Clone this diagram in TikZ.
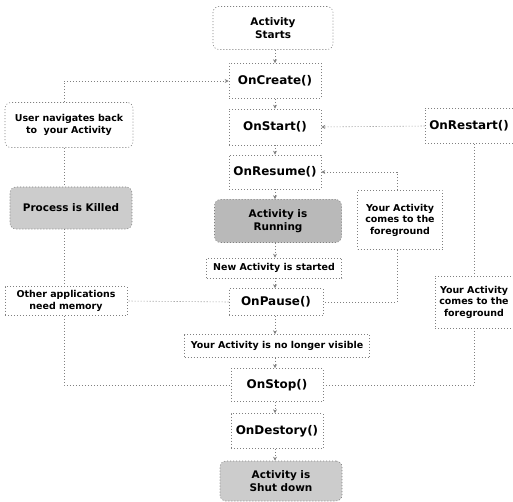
\documentclass[tikz,border=0pt]{standalone}
\usepackage{fontspec}
\setmainfont{DejaVu Sans}
\usetikzlibrary{arrows.meta}
\begin{document}
\begin{tikzpicture}[x=1bp,y=-1bp,
  box/.style={draw=black!50, dash pattern=on 1bp off 2bp, line width=0.6bp, align=center, inner sep=0pt, font=\bfseries\fontsize{9.5}{11.5}\selectfont},
  meth/.style={box, font=\bfseries\fontsize{12}{14}\selectfont},
  rbox/.style={box, rounded corners=6bp, font=\bfseries\fontsize{10.5}{12.5}\selectfont},
  shade/.style={fill=gray!40},
  conn/.style={draw=black!50, dash pattern=on 1bp off 2bp, line width=0.6bp},
  arr/.style={conn, -{Stealth[length=4bp,width=4bp,black!50]}}
]
\useasboundingbox (0,0) rectangle (513,502);
% centre column
\node[rbox, minimum width=120bp, minimum height=43bp] (start) at (273,28) {Activity\\Starts};
\node[meth, minimum width=92bp, minimum height=35bp] (create) at (275,81) {OnCreate()};
\node[meth, minimum width=92bp, minimum height=36bp] (onstart) at (275,127) {OnStart()};
\node[meth, minimum width=92bp, minimum height=34bp] (resume) at (275,172) {OnResume()};
\node[rbox, shade, fill=gray!55, minimum width=127bp, minimum height=43bp] (running) at (278,221) {Activity is\\Running};
\node[box, minimum width=135bp, minimum height=20bp] (newact) at (274,268) {New Activity is started};
\node[meth, minimum width=94bp, minimum height=27bp] (pause) at (276,302) {OnPause()};
\node[box, minimum width=185bp, minimum height=23bp] (novis) at (277,346) {Your Activity is no longer visible};
\node[meth, minimum width=92bp, minimum height=33bp] (stop) at (277,385) {OnStop()};
\node[meth, minimum width=92bp, minimum height=35bp] (destroy) at (277,431) {OnDestory()};
\node[rbox, shade, minimum width=122bp, minimum height=40bp] (shut) at (281,481) {Activity is\\Shut down};
% left column
\node[rbox, font=\bfseries\fontsize{9.5}{11.5}\selectfont, minimum width=128bp, minimum height=45bp] (user) at (69,125) {User navigates back\\to\ \ your Activity};
\node[rbox, shade, minimum width=122bp, minimum height=42bp] (killed) at (71,208) {Process is Killed};
\node[box, minimum width=122bp, minimum height=29bp] (other) at (66,301) {Other applications\\need memory};
% right column
\node[meth, minimum width=88bp, minimum height=35bp] (restart) at (469,126) {OnRestart()};
\node[box, minimum width=85bp, minimum height=59bp] (fg1) at (400,220) {Your Activity\\comes to the\\foreground};
\node[box, minimum width=78bp, minimum height=52bp] (fg2) at (474,302) {Your Activity\\comes to the\\foreground};
% central arrows
\draw[arr] (start.south -| create.north) -- (create.north);
\draw[arr] (create.south) -- (onstart.north);
\draw[arr] (onstart.south) -- (resume.north);
\draw[arr] (resume.south) -- (resume.south |- running.north);
\draw[arr] (resume.south |- running.south) -- (resume.south |- newact.north);
\draw[arr] (resume.south |- newact.south) -- (resume.south |- pause.north);
\draw[arr] (resume.south |- pause.south) -- (resume.south |- novis.north);
\draw[arr] (resume.south |- novis.south) -- (resume.south |- stop.north);
\draw[arr] (resume.south |- stop.south) -- (resume.south |- destroy.north);
\draw[arr] (resume.south |- destroy.south) -- (resume.south |- shut.north);
% left loop
\coordinate (ux) at (64,0);
\draw[arr] (ux |- user.north) |- (create.west);
\draw[conn] (ux |- user.south) -- (ux |- killed.north);
\draw[conn] (ux |- killed.south) -- (ux |- other.north);
\draw[conn] (pause.west) -- (other.east);
\draw[conn] (ux |- other.south) |- (stop.west);
% right loops
\draw[arr] (restart.west) -- (onstart.east);
\draw[conn] (fg2.north |- restart.south) -- (fg2.north);
\draw[conn] (fg2.south) |- (stop.east);
\coordinate (fx) at (397,0);
\draw[arr] (fx |- fg1.north) |- (resume.east);
\draw[conn] (fx |- fg1.south) |- (pause.east);
\end{tikzpicture}
\end{document}
